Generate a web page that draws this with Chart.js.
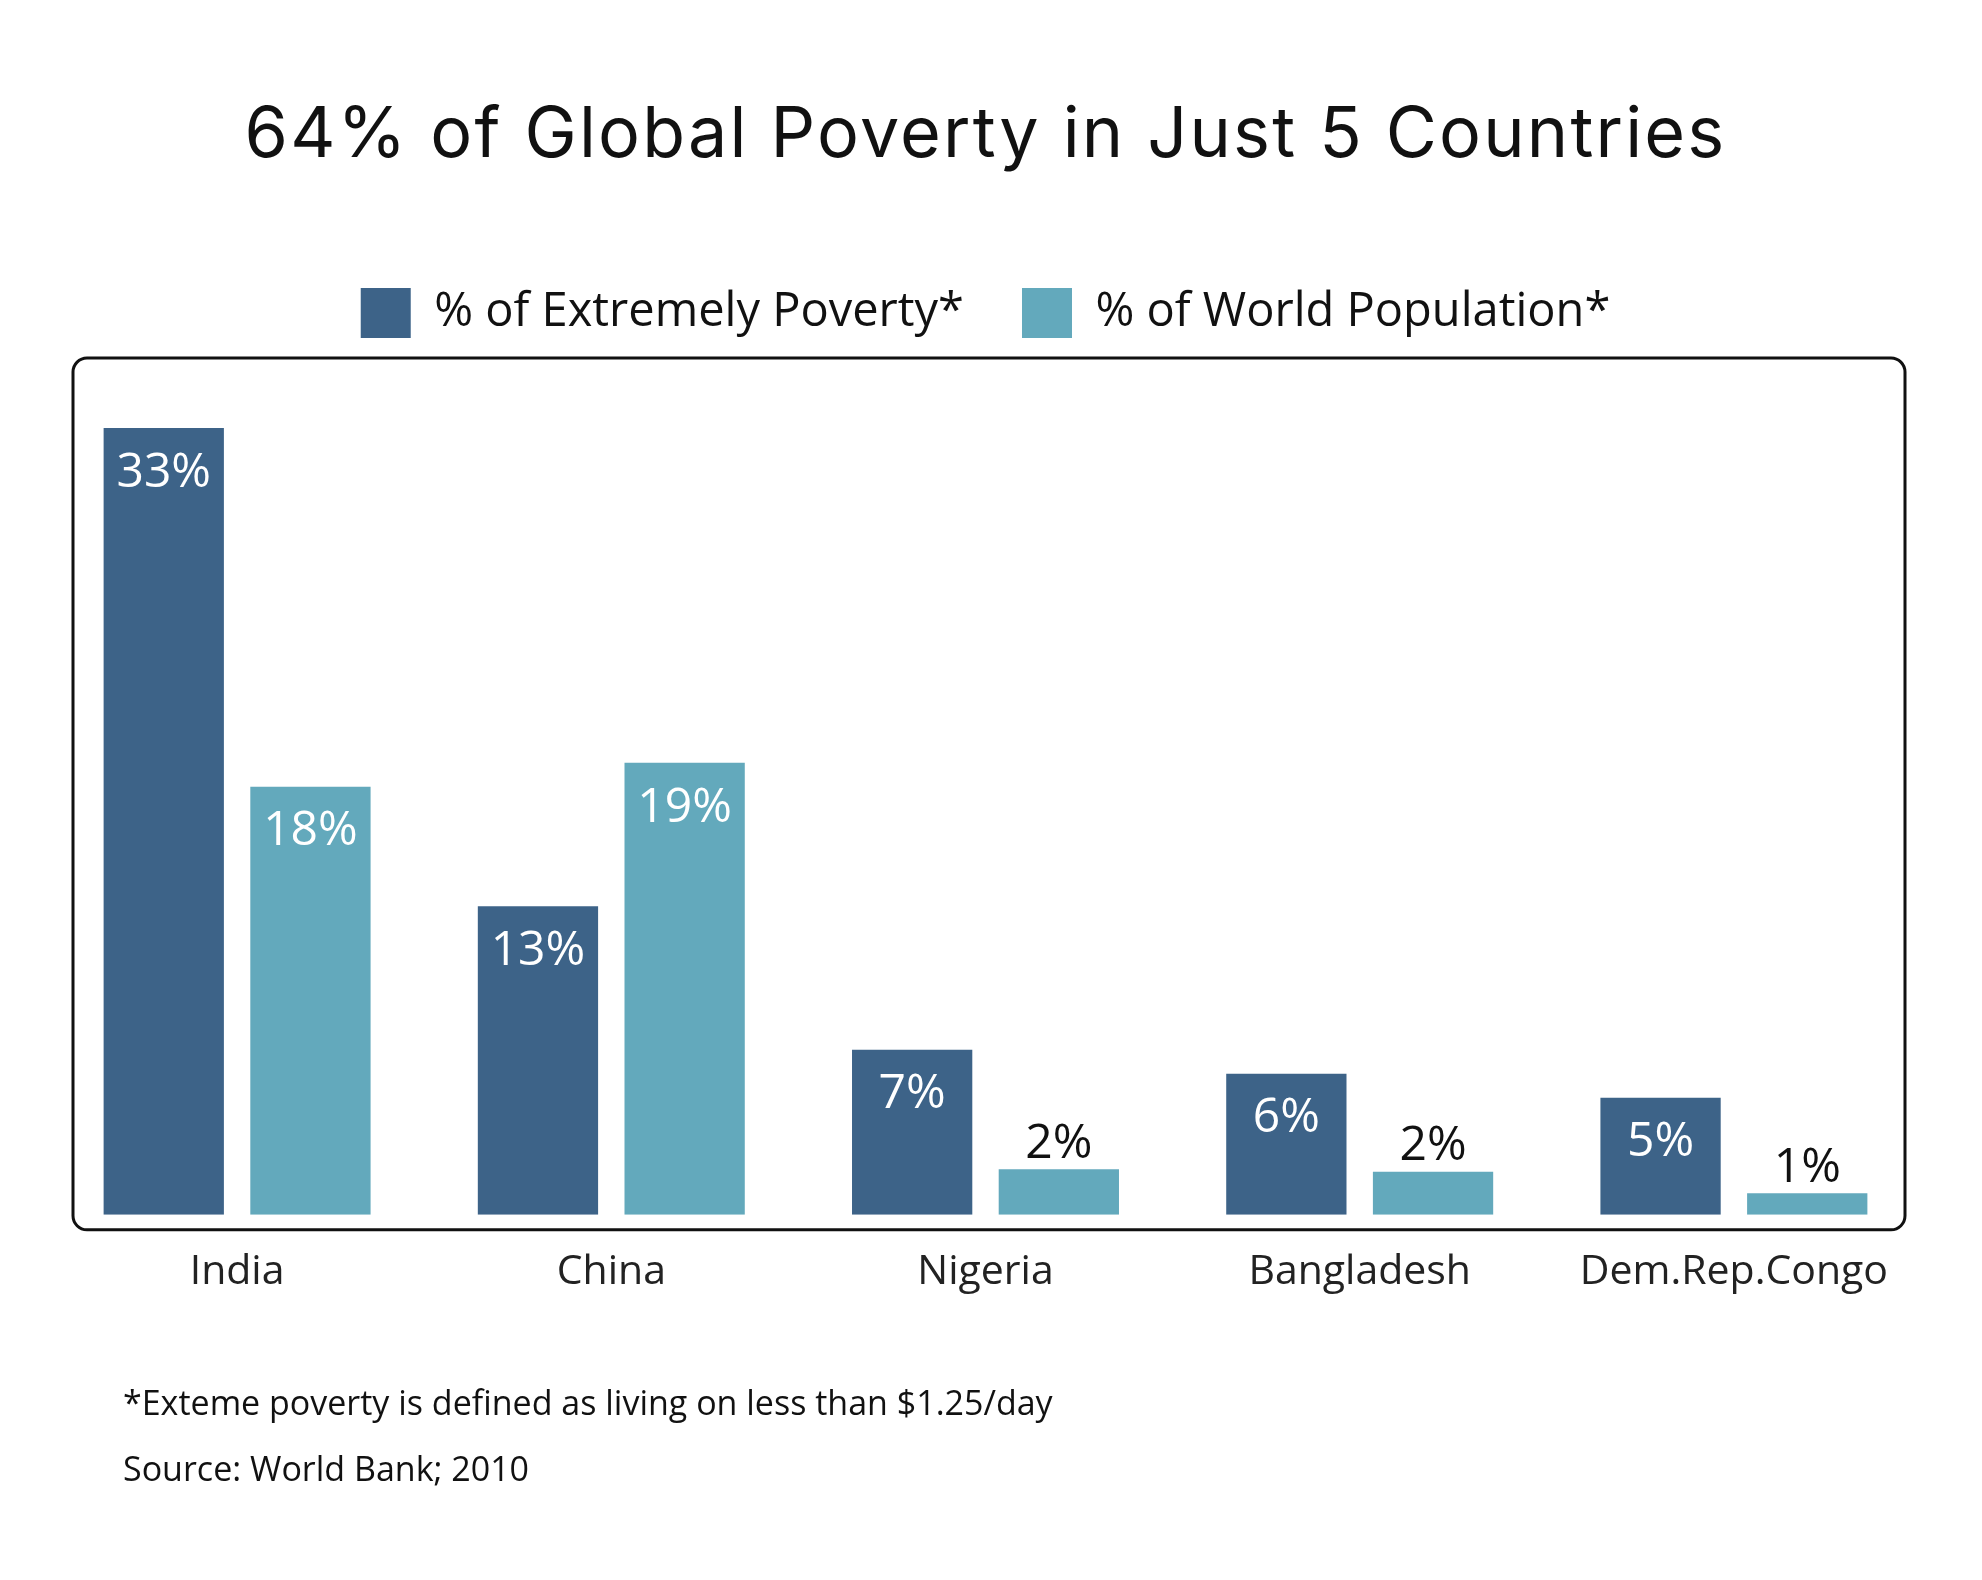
<!DOCTYPE html>
<html>
<head>
<meta charset="utf-8">
<script src="https://cdn.jsdelivr.net/npm/chart.js@4.4.1/dist/chart.umd.min.js"></script>
<style>
  html, body { margin: 0; padding: 0; background: #fff; }
  #wrap { width: 1982px; height: 1580px; }
</style>
</head>
<body>
<div id="wrap"><canvas id="povertyChart" width="1982" height="1580"></canvas></div>
<script>
// 64% of Global Poverty in Just 5 Countries
const countries = ['India', 'China', 'Nigeria', 'Bangladesh', 'Dem.Rep.Congo'];
const extremePoverty = [32.9, 12.9, 6.9, 5.9, 4.9];
const worldPopulation = [17.9, 18.9, 1.9, 1.8, 0.9];
const footnotes = ['*Exteme poverty is defined as living on less than $1.25/day', 'Source: World Bank; 2010'];

const c = {
  dark: '#3d6388',
  light: '#63a9bc',
  text: '#111111'
};
const bodyFont = "'Open Sans', sans-serif";

// title gets a little letter spacing
const titleSpacing = {
  id: 'titleSpacing',
  afterInit(chart) {
    const tb = chart.titleBlock;
    if (!tb) return;
    const orig = tb.draw;
    tb.draw = function () {
      const ctx = chart.ctx;
      ctx.save();
      ctx.letterSpacing = '2.2px';
      orig.call(this);
      ctx.restore();
    };
  }
};

// rounded frame around the plot + footnotes
const framePlugin = {
  id: 'frame',
  beforeDatasetsDraw(chart) {
    const { ctx, chartArea: a } = chart;
    ctx.save();
    ctx.strokeStyle = c.text;
    ctx.lineWidth = 3;
    ctx.beginPath();
    ctx.roundRect(a.left + 23, a.top + 10, a.right - a.left - 39, a.bottom - a.top + 5, 14);
    ctx.stroke();
    ctx.restore();
  },
  afterDraw(chart) {
    const { ctx } = chart;
    ctx.save();
    ctx.font = '34px ' + bodyFont;
    ctx.fillStyle = c.text;
    ctx.textBaseline = 'middle';
    footnotes.forEach((t, i) => ctx.fillText(t, 123, 1405 + i * 66));
    ctx.restore();
  }
};

// value labels: white inside tall bars, black above short ones
const labelPlugin = {
  id: 'barLabels',
  afterDatasetsDraw(chart) {
    const { ctx } = chart;
    ctx.save();
    ctx.font = '48px ' + bodyFont;
    ctx.textAlign = 'center';
    ctx.textBaseline = 'middle';
    chart.data.datasets.forEach((ds, i) => {
      chart.getDatasetMeta(i).data.forEach((bar, j) => {
        const v = ds.data[j];
        const txt = Math.round(v) + '%';
        if (v >= 3) {
          ctx.fillStyle = '#ffffff';
          ctx.fillText(txt, bar.x, bar.y + 45);
        } else {
          ctx.fillStyle = c.text;
          ctx.fillText(txt, bar.x, bar.y - 25);
        }
      });
    });
    ctx.restore();
  }
};

new Chart(document.getElementById('povertyChart'), {
  type: 'bar',
  data: {
    labels: countries,
    datasets: [{
      label: '% of Extremely Poverty*',
      data: extremePoverty,
      backgroundColor: c.dark
    }, {
      label: '% of World Population*',
      data: worldPopulation,
      backgroundColor: c.light
    }]
  },
  options: {
    responsive: false,
    animation: false,
    categoryPercentage: 0.784,
    barPercentage: 0.82,
    layout: { padding: { left: 50, right: 61, top: 0, bottom: 250 } },
    plugins: {
      title: {
        display: true,
        text: '64% of Global Poverty in Just 5 Countries',
        color: c.text,
        font: { family: 'Inter, sans-serif', size: 70, weight: '400' },
        padding: { top: 94, bottom: 52 }
      },
      legend: {
        position: 'top',
        labels: {
          boxWidth: 50,
          boxHeight: 50,
          padding: 58,
          color: c.text,
          font: { family: bodyFont, size: 47 }
        }
      },
      tooltip: { enabled: false }
    },
    scales: {
      x: {
        grid: { display: false, drawTicks: false },
        border: { display: false },
        ticks: { color: '#222', padding: 33, font: { family: bodyFont, size: 41 } }
      },
      y: {
        display: false,
        min: 0,
        max: 36.25
      }
    }
  },
  plugins: [titleSpacing, framePlugin, labelPlugin]
});
</script>
</body>
</html>
